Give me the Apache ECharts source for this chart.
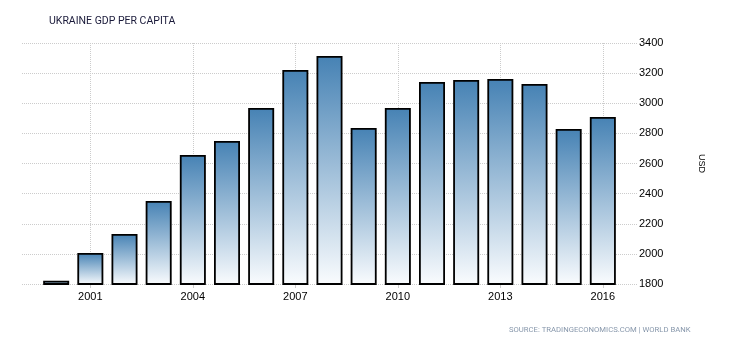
<!DOCTYPE html>
<html>
<head>
<meta charset="utf-8">
<script src="https://cdn.jsdelivr.net/npm/echarts@6/dist/echarts.min.js"></script>
<style>html,body{margin:0;padding:0;background:#fff;}#c{width:730px;height:340px;}</style>
</head>
<body>
<div id="c"></div>
<script>
const years = [2000,2001,2002,2003,2004,2005,2006,2007,2008,2009,2010,2011,2012,2013,2014,2015,2016];
const gdpPerCapita = [1822,2006,2132,2351,2657,2750,2969,3221,3314,2836,2969,3141,3155,3161,3128,2829,2909];
const yTicks = {min:1800, max:3400, step:200};
const labelEvery = 3, firstLabelYear = 2001;

// pad the axis by one year on each side (axis extent only)
const axisYears = [years[0]-1, ...years, years[years.length-1]+1].map(String);
const seriesData = [null, ...gdpPerCapita, null];
const showYear = (i, v) => (Number(v) - firstLabelYear) % labelEvery === 0 && Number(v) >= firstLabelYear && Number(v) <= years[years.length-1];

const chart = echarts.init(document.getElementById('c'), null, {renderer:'canvas'});
chart.setOption({
  animation:false,
  backgroundColor:'#fff',
  textStyle:{fontFamily:'Liberation Sans, Arial, sans-serif'},
  title:[
    {text:'UKRAINE GDP PER CAPITA', left:44, top:11,
     textStyle:{fontSize:10.5, fontWeight:'normal', color:'#1a1a3a', fontFamily:'Roboto, sans-serif'}},
    {text:'SOURCE: TRADINGECONOMICS.COM | WORLD BANK', left:504, top:321,
     textStyle:{fontSize:7.7, fontWeight:'normal', color:'#8797ab', fontFamily:'Roboto, sans-serif'}}
  ],
  grid:{left:22, right:93, top:43, bottom:56, containLabel:false},
  xAxis:{
    type:'category', data:axisYears, boundaryGap:false,
    axisLine:{show:false},
    axisTick:{show:true, interval:showYear, length:4, lineStyle:{color:'#ccc'}},
    axisLabel:{interval:showYear, margin:7, fontSize:11, color:'#000'},
    splitLine:{show:true, interval:showYear, lineStyle:{color:'#ccc', type:'dotted'}}
  },
  yAxis:{
    type:'value', position:'right', min:yTicks.min, max:yTicks.max, interval:yTicks.step,
    axisLine:{show:false}, axisTick:{show:false},
    axisLabel:{margin:2, fontSize:11, color:'#000', formatter:(v) => String(v)},
    splitLine:{lineStyle:{color:'#ccc', type:'dotted'}},
    name:'USD', nameLocation:'middle', nameRotate:-90, nameGap:60,
    nameTextStyle:{fontSize:9, color:'#000'}
  },
  series:[{
    type:'bar', data:seriesData, barWidth:26,
    itemStyle:{
      borderColor:'#000', borderWidth:1.8,
      color:new echarts.graphic.LinearGradient(0,0,0,1,[
        {offset:0, color:'#4682b4'},
        {offset:1, color:'#fafcfe'}
      ])
    }
  }]
});
</script>
</body>
</html>
